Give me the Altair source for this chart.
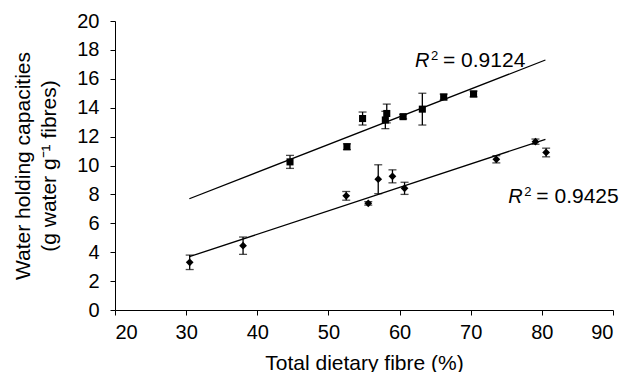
import altair as alt
import pandas as pd

# Square series (upper line)
sq_x = [44.6, 52.6, 54.8, 58.2, 58.0, 60.5, 63.2, 66.2, 70.4]
sq_y = [10.25, 11.3, 13.25, 13.6, 13.15, 13.38, 13.9, 14.74, 14.95]
sq_err = [0.45, 0.2, 0.45, 0.65, 0.6, 0.15, 1.1, 0.2, 0.2]

# Diamond series (lower line)
dm_x = [30.5, 38.0, 52.5, 55.6, 57.0, 59.0, 60.7, 73.6, 79.1, 80.6]
dm_y = [3.3, 4.45, 7.9, 7.38, 9.05, 9.25, 8.42, 10.43, 11.65, 10.9]
dm_err = [0.5, 0.6, 0.3, 0.12, 1.0, 0.45, 0.42, 0.25, 0.18, 0.3]

# Linear trend lines (end points)
trend_x = [30.45, 80.5]
trend_upper = [7.7, 17.3]
trend_lower = [3.69, 11.81]

# R^2 annotations
r2_values = ["= 0.9124", "= 0.9425"]
r2_x = [62.17, 75.29]
r2_y = [16.84, 7.38]

FONT = "Liberation Sans"

sq = pd.DataFrame({"x": sq_x, "y": sq_y, "err": sq_err})
sq["lo"] = sq["y"] - sq["err"]
sq["hi"] = sq["y"] + sq["err"]
dm = pd.DataFrame({"x": dm_x, "y": dm_y, "err": dm_err})
dm["lo"] = dm["y"] - dm["err"]
dm["hi"] = dm["y"] + dm["err"]
allpts = pd.concat([sq, dm], ignore_index=True)

trend = pd.DataFrame({
    "x": trend_x * 2,
    "y": trend_upper + trend_lower,
    "line": ["upper"] * 2 + ["lower"] * 2,
})
labels = pd.DataFrame({"x": r2_x, "y": r2_y, "txt": r2_values,
                       "R": ["R", "R"], "two": ["2", "2"]})

xaxis = alt.Axis(values=list(range(20, 91, 10)), title="Total dietary fibre (%)",
                 titleY=42, titleBaseline="top", labelPadding=7)
yaxis = alt.Axis(values=list(range(0, 21, 2)),
                 title=["Water holding capacities", "(g water g⁻¹ fibres)"],
                 titleX=-92, titleY=144.5, titleAngle=270, titleAlign="center",
                 titleBaseline="middle", titleLineHeight=26, labelPadding=11)
xscale = alt.Scale(domain=[20, 90], nice=False, zero=False)
yscale = alt.Scale(domain=[0, 20], nice=False)


def X(f):
    return alt.X(f, type="quantitative", scale=xscale, axis=xaxis)


def Y(f):
    return alt.Y(f, type="quantitative", scale=yscale, axis=yaxis)


lines = alt.Chart(trend).mark_line(color="black", strokeWidth=1.3).encode(
    x=X("x"), y=Y("y"), detail="line:N")

bars = alt.Chart(allpts).mark_rule(color="black", strokeWidth=1.3).encode(
    x=X("x"), y=Y("lo"), y2="hi")
cap_lo = alt.Chart(allpts).mark_tick(color="black", orient="horizontal", size=8,
                                     thickness=1.3).encode(x=X("x"), y=Y("lo"))
cap_hi = alt.Chart(allpts).mark_tick(color="black", orient="horizontal", size=8,
                                     thickness=1.3).encode(x=X("x"), y=Y("hi"))

squares = alt.Chart(sq).mark_point(shape="square", filled=True, size=50,
                                   color="black", opacity=1).encode(x=X("x"), y=Y("y"))
diamonds = alt.Chart(dm).mark_point(shape="diamond", filled=True, size=60,
                                    color="black", opacity=1).encode(x=X("x"), y=Y("y"))

t_r = alt.Chart(labels).mark_text(align="left", baseline="alphabetic", font=FONT,
                                  fontSize=20, fontStyle="italic", color="black").encode(
    x=X("x"), y=Y("y"), text="R:N")
t_2 = alt.Chart(labels).mark_text(align="left", baseline="alphabetic", font=FONT,
                                  fontSize=13, dx=16, dy=-7, color="black").encode(
    x=X("x"), y=Y("y"), text="two:N")
t_v = alt.Chart(labels).mark_text(align="left", baseline="alphabetic", font=FONT,
                                  fontSize=21, dx=28, color="black").encode(
    x=X("x"), y=Y("y"), text="txt:N")

chart = alt.layer(lines, bars, cap_lo, cap_hi, squares, diamonds, t_r, t_2, t_v).properties(
    width=498, height=289,
    padding={"left": 107, "top": 13, "right": 14, "bottom": 62},
    autosize="none",
).configure_view(stroke=None).configure_axis(
    grid=False, domainColor="black", domainWidth=1, tickColor="black", tickSize=5,
    tickWidth=1, labelFont=FONT, labelFontSize=20, labelColor="black",
    titleFont=FONT, titleFontSize=21, titleFontWeight="normal", titleColor="black",
)

chart.save("out.html", embed_options={"renderer": "svg", "actions": False})
